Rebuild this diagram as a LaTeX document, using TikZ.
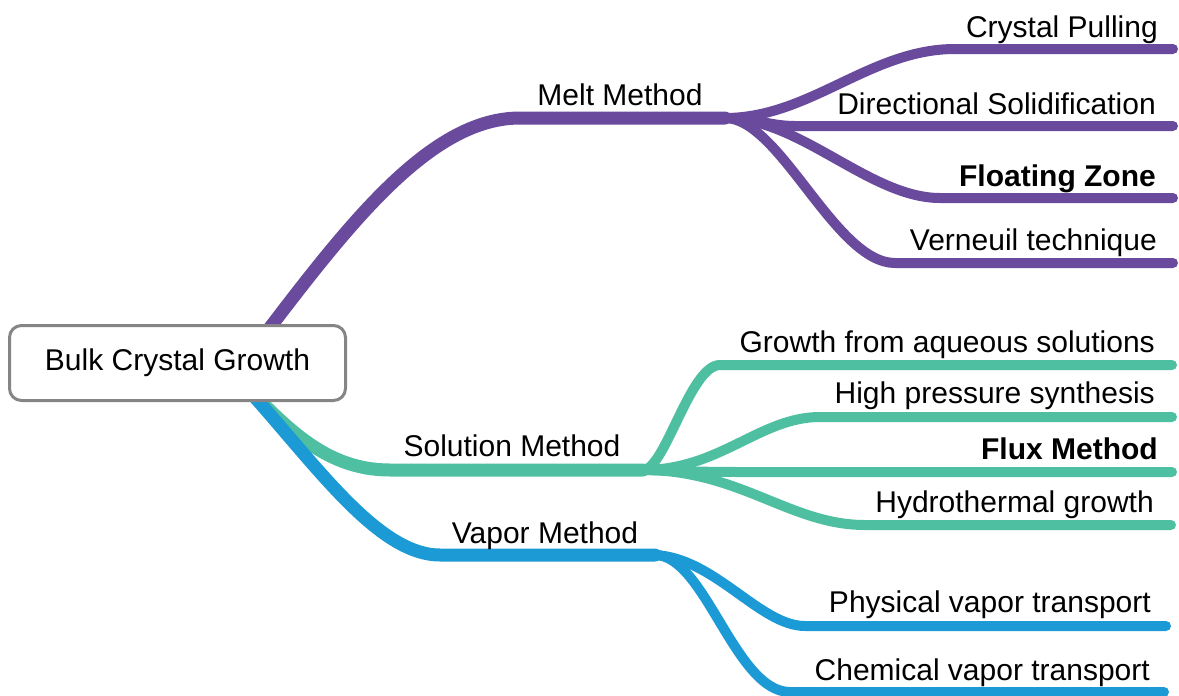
\documentclass[tikz,border=0pt]{standalone}
\usepackage{fontspec}
\setmainfont{Liberation Sans}
\usetikzlibrary{backgrounds}
\definecolor{meltc}{HTML}{6A4A9C}
\definecolor{solc}{HTML}{4FBFA1}
\definecolor{vapc}{HTML}{1B9AD6}
\definecolor{boxc}{HTML}{858585}
\begin{document}
\begin{tikzpicture}[x=1pt,y=-1pt,
  trunk/.style={line width=13pt, line cap=round},
  twig/.style={line width=10pt, line cap=round},
  txt/.style={inner sep=0pt, font=\fontsize{30}{36}\selectfont},
  leaf/.style={txt, anchor=base east},
  mid/.style={txt, anchor=base},
  rootbox/.style={draw=boxc, line width=3pt, fill=white, rounded corners=12pt,
    minimum width=336pt, minimum height=75pt, inner sep=0pt, font=\fontsize{30}{36}\selectfont}]
\useasboundingbox (0,0) rectangle (1179,696);

% root
\node[rootbox] (root) at (177.5,363) {Bulk Crystal Growth};

% labels
\node[mid] (melt) at (620,105) {Melt Method};
\node[mid] (sol) at (512,456) {Solution Method};
\node[mid] (vap) at (545,543) {Vapor Method};

\node[leaf] (cp) at (1158,37) {Crystal Pulling};
\node[leaf] (ds) at (1156,114) {Directional Solidification};
\node[leaf, font=\fontsize{30}{36}\selectfont\bfseries] (fz) at (1156,186) {Floating Zone};
\node[leaf] (vt) at (1157,250) {Verneuil technique};

\node[leaf] (ga) at (1155,352) {Growth from aqueous solutions};
\node[leaf] (hp) at (1155,403) {High pressure synthesis};
\node[leaf, font=\fontsize{30}{36}\selectfont\bfseries] (fm) at (1158,459) {Flux Method};
\node[leaf] (hg) at (1154,512) {Hydrothermal growth};

\node[leaf] (pv) at (1151,612) {Physical vapor transport};
\node[leaf] (cv) at (1150,680) {Chemical vapor transport};

% coordinates
\coordinate (rm) at (230,380);
\coordinate (rs) at (230,370);
\coordinate (rv) at (220,360);
\coordinate (meltA) at (520,118);
\coordinate (meltJ) at (725,118);
\coordinate (solA) at (390,470);
\coordinate (solJ) at (643,470);
\coordinate (vapA) at (440,555);
\coordinate (vapJ) at (655,555);

\coordinate (cpA) at (955,49);  \coordinate (cpB) at (1173,49);
\coordinate (dsA) at (795,126); \coordinate (dsB) at (1173,126);
\coordinate (fzA) at (940,198); \coordinate (fzB) at (1173,198);
\coordinate (vtA) at (895,263); \coordinate (vtB) at (1173,263);

\coordinate (gaA) at (720,365); \coordinate (gaB) at (1172,365);
\coordinate (hpA) at (820,417); \coordinate (hpB) at (1172,417);
\coordinate (fmA) at (740,472); \coordinate (fmB) at (1172,472);
\coordinate (hgA) at (865,525); \coordinate (hgB) at (1171,525);

\coordinate (pvA) at (805,626); \coordinate (pvB) at (1166,626);
\coordinate (cvA) at (790,692); \coordinate (cvB) at (1164,692);

\begin{scope}[on background layer]
% trunks
\draw[trunk, meltc] (rm) .. controls (330,250) and (420,118) .. (meltA) -- (meltJ);
\draw[trunk, solc] (rs) .. controls (280,420) and (320,470) .. (solA) -- (solJ);
\draw[trunk, vapc] (rv) .. controls (300,440) and (370,555) .. (vapA) -- (vapJ);

% melt leaves
\draw[twig, meltc] (meltJ) .. controls (810,118) and (870,49) .. (cpA) -- (cpB);
\draw[twig, meltc] (meltJ) .. controls (755,118) and (770,126) .. (dsA) -- (dsB);
\draw[twig, meltc] (meltJ) .. controls (800,118) and (870,198) .. (fzA) -- (fzB);
\draw[twig, meltc] (meltJ) .. controls (780,118) and (835,263) .. (vtA) -- (vtB);

% solution leaves
\draw[twig, solc] (solJ) .. controls (665,470) and (690,365) .. (gaA) -- (gaB);
\draw[twig, solc] (solJ) .. controls (720,470) and (760,417) .. (hpA) -- (hpB);
\draw[twig, solc] (solJ) .. controls (680,471) and (700,472) .. (fmA) -- (fmB);
\draw[twig, solc] (solJ) .. controls (740,470) and (790,525) .. (hgA) -- (hgB);

% vapor leaves
\draw[twig, vapc] (vapJ) .. controls (715,558) and (760,626) .. (pvA) -- (pvB);
\draw[twig, vapc] (vapJ) .. controls (705,555) and (735,692) .. (cvA) -- (cvB);
\end{scope}
\end{tikzpicture}
\end{document}
